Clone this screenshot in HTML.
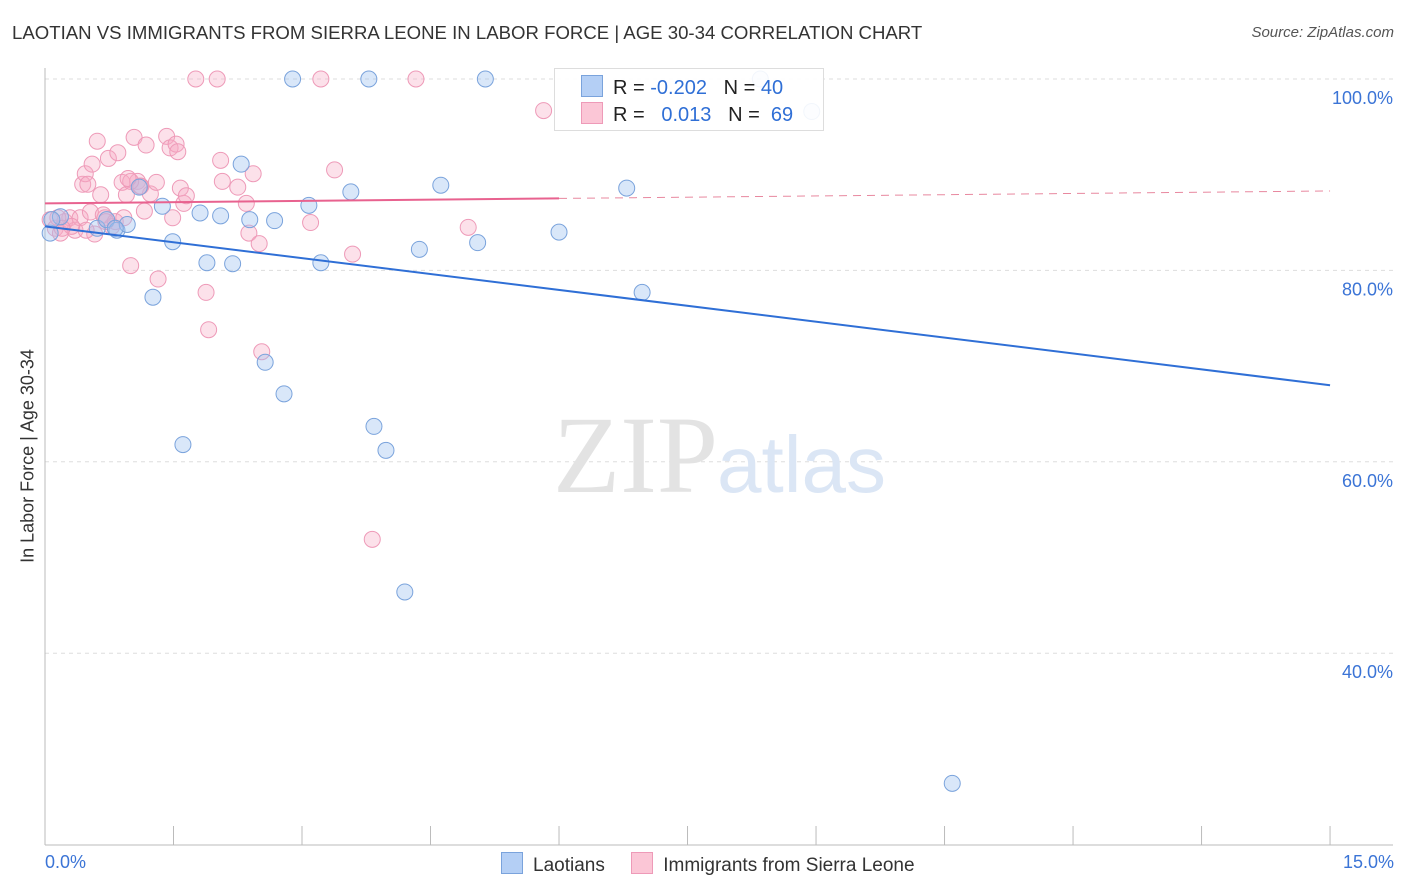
<!DOCTYPE html>
<html><head><meta charset="utf-8"><style>
body{margin:0;background:#fff;font-family:"Liberation Sans",sans-serif;}
#wrap{position:relative;width:1406px;height:892px;overflow:hidden;}
</style></head><body>
<div id="wrap">
<div style="position:absolute;left:12px;top:22px;font-size:18.6px;color:#333;">LAOTIAN VS IMMIGRANTS FROM SIERRA LEONE IN LABOR FORCE | AGE 30-34 CORRELATION CHART</div>
<div style="position:absolute;right:12px;top:24px;font-size:15px;color:#555;font-style:italic;">Source: ZipAtlas.com</div>
<svg id="svg" width="1406" height="892" style="position:absolute;left:0;top:0"></svg>
</div>
<script>
const xTicks=[0,1.5,3,4.5,6,7.5,9,10.5,12,13.5,15];
const yTicks=[40,60,80,100];
const yTickLabels=["40.0%","60.0%","80.0%","100.0%"];
const blueX=[0.06,0.18,0.08,0.61,0.72,0.84,0.96,1.10,1.26,1.37,1.49,1.61,1.81,1.89,2.05,2.19,2.29,2.39,2.57,2.68,2.79,2.89,3.08,3.22,3.57,3.78,3.84,3.98,4.20,4.37,4.62,5.05,5.14,6.00,6.79,6.97,8.35,8.95,10.59,0.82];
const blueY=[83.9,85.6,85.3,84.4,85.3,84.2,84.8,88.7,77.2,86.7,83.0,61.8,86.0,80.8,85.7,80.7,91.1,85.3,70.4,85.2,67.1,100,86.8,80.8,88.2,100,63.7,61.2,46.4,82.2,88.9,82.9,100,84.0,88.6,77.7,100,96.6,26.4,84.4];
const pinkX=[0.06,0.12,0.18,0.23,0.29,0.35,0.41,0.44,0.47,0.50,0.53,0.55,0.58,0.61,0.65,0.70,0.74,0.78,0.85,0.90,0.95,1.00,1.04,1.08,1.12,1.16,1.18,1.23,1.30,1.32,1.42,1.46,1.49,1.53,1.55,1.58,1.62,1.65,1.76,1.88,1.91,2.01,2.05,2.07,2.25,2.35,2.38,2.43,2.50,2.53,3.10,3.22,3.38,3.59,3.82,4.33,4.94,5.82,0.68,0.82,0.92,0.48,1.11,1.00,0.31,0.15,0.20,0.97,0.71];
const pinkY=[85.3,84.4,83.9,85.1,85.5,84.2,85.5,89.0,90.1,89.0,86.1,91.1,83.8,93.5,87.9,85.5,91.7,84.6,92.3,89.2,87.9,80.5,93.9,89.3,88.8,86.2,93.1,88.0,89.2,79.1,94.0,92.8,85.5,93.2,92.4,88.6,87.0,87.8,100,77.7,73.8,100,91.5,89.3,88.7,87.0,83.9,90.1,82.8,71.5,85.0,100,90.5,81.7,51.9,100,84.5,96.7,85.8,85.1,85.5,84.2,88.8,89.3,84.6,85.5,84.4,89.6,85.1];
const blueTrend=[84.6,68.0];
const pinkTrend=[87.0,88.3];
const sx=v=>45+v*85.67;
const sy=v=>79+(100-v)*9.57;
const svg=document.getElementById('svg');
const NS='http://www.w3.org/2000/svg';
function mk(t,a,p){const e=document.createElementNS(NS,t);for(const k in a)e.setAttribute(k,a[k]);(p||svg).appendChild(e);return e;}
yTicks.forEach((v,i)=>{
 const g=mk('line',{x1:45,x2:1393,y1:sy(v),y2:sy(v),stroke:'#ddd','stroke-dasharray':'4,4'});
 
 
 const t=mk('text',{x:1393,y:sy(v)+25,'text-anchor':'end','font-size':18,fill:'#3b74d6','font-family':'Liberation Sans'});
 t.textContent=yTickLabels[i];
 
 
});
const ya=mk('line',{x1:45,x2:45,y1:68,y2:845,stroke:'#bbb'});


const xa=mk('line',{x1:45,x2:1393,y1:845,y2:845,stroke:'#bbb'});


xTicks.forEach(v=>{
 const l=mk('line',{x1:sx(v),x2:sx(v),y1:826,y2:845,stroke:'#bbb'});
 
 
});
const wm=mk('text',{x:553,y:492,'font-size':110,fill:'#e3e3e3','font-family':'Liberation Serif'});wm.textContent='ZIP';


const wm2=mk('text',{x:717,y:492,'font-size':80,fill:'#dbe6f5','font-family':'Liberation Sans'});wm2.textContent='atlas';


pinkX.forEach((x,i)=>{
 const c=mk('circle',{cx:sx(x),cy:sy(pinkY[i]),r:8,fill:'rgba(246,170,196,0.35)',stroke:'#ee9ab8','stroke-width':1});
 
 
});
blueX.forEach((x,i)=>{
 const c=mk('circle',{cx:sx(x),cy:sy(blueY[i]),r:8,fill:'rgba(160,195,240,0.4)',stroke:'#7aa3dc','stroke-width':1});
 
 
});
const bt=mk('line',{x1:sx(0),y1:sy(blueTrend[0]),x2:sx(15),y2:sy(blueTrend[1]),stroke:'#2f6fd6','stroke-width':2});


const pm=pinkTrend[0]+(pinkTrend[1]-pinkTrend[0])*6/15;
const pt=mk('line',{x1:sx(0),y1:sy(pinkTrend[0]),x2:sx(6),y2:sy(pm),stroke:'#e8628f','stroke-width':2});


const pd=mk('line',{x1:sx(6),y1:sy(pm),x2:sx(15),y2:sy(pinkTrend[1]),stroke:'#e8889f','stroke-width':1,'stroke-dasharray':'8,6'});


</script>
<div style="position:absolute;left:554px;top:68px;width:268px;height:61px;border:1px solid #ddd;background:rgba(255,255,255,0.9);font-size:20px;color:#222;">
 <div style="position:absolute;left:26px;top:6px;white-space:pre;"><span style="display:inline-block;width:20px;height:20px;background:#b4cff5;border:1px solid #7aa3dc;vertical-align:-3px;margin-right:10px"></span>R = <span style="color:#2f6fd6">-0.202</span>   N = <span style="color:#2f6fd6">40</span></div>
 <div style="position:absolute;left:26px;top:33px;white-space:pre;"><span style="display:inline-block;width:20px;height:20px;background:#fbc6d6;border:1px solid #ee9ab8;vertical-align:-3px;margin-right:10px"></span>R =   <span style="color:#2f6fd6">0.013</span>   N =  <span style="color:#2f6fd6">69</span></div>
</div>
<div style="position:absolute;left:28px;top:456px;transform:translate(-50%,-50%) rotate(-90deg);font-size:18px;color:#333;white-space:nowrap;">In Labor Force | Age 30-34</div>
<div style="position:absolute;left:45px;top:852px;font-size:18px;color:#3b74d6;">0.0%</div>
<div style="position:absolute;right:12px;top:852px;font-size:18px;color:#3b74d6;">15.0%</div>
<div style="position:absolute;left:501px;top:852px;font-size:19px;color:#333;white-space:pre;"><span><span style="display:inline-block;width:20px;height:20px;background:#b4cff5;border:1px solid #7aa3dc;vertical-align:-3px;margin-right:10px"></span>Laotians</span>     <span><span style="display:inline-block;width:20px;height:20px;background:#fbc6d6;border:1px solid #ee9ab8;vertical-align:-3px;margin-right:10px"></span>Immigrants from Sierra Leone</span></div>
</body></html>
